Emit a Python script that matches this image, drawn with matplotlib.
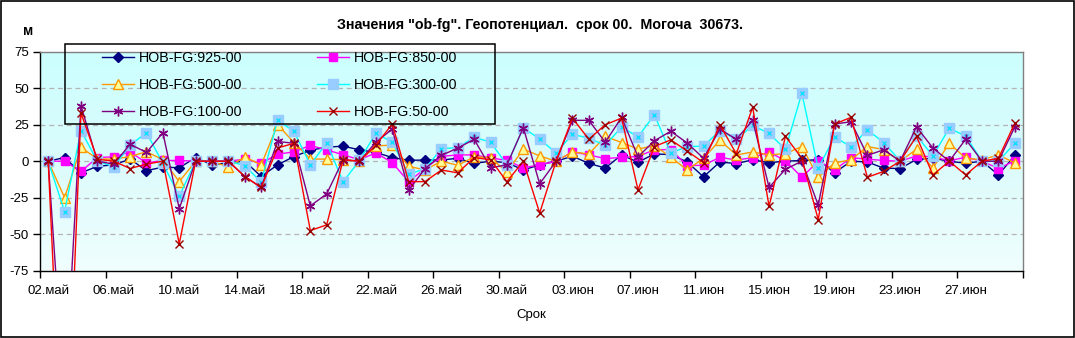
import numpy as np
import matplotlib
matplotlib.use("Agg")
import matplotlib.pyplot as plt
from matplotlib.colors import LinearSegmentedColormap
from matplotlib.patches import Rectangle

plt.rcParams['font.family'] = ['Liberation Sans', 'DejaVu Sans']

# 02.май .. 30.июн, one point per day
days = np.arange(60)
tick_labels = ["02.май", "06.май", "10.май", "14.май", "18.май", "22.май", "26.май",
               "30.май", "03.июн", "07.июн", "11.июн", "15.июн", "19.июн", "23.июн", "27.июн"]

h925 = [0, 2.5, -8, -3.5, -2.5, 1.4, -6.5, -4, -4.5, 2.5,
        -2.5, -1, 0, -10.5, -2.5, 3.2, 7.5, 9.6, 10.3, 7.8,
        6, 2.5, 0.6, 0.8, 0.8, 2, -1.5, 0, -1, -6,
        -2.5, 0, 3.4, -1.5, -4.7, 4.3, -0.7, 5, 4.5, -0.5,
        -10.7, -0.5, -1.7, 1, -1, 0, 0.5, 1, -8, 0,
        -0.5, -4.8, -5, 1.2, 2, 0, -1.4, 0, -9.4, 4]
h850 = [0, 0, -7, 2.5, 3, 6.4, -1.2, 0.5, 0.5, 0,
        0, 0, 1.4, -1.4, 4.8, 6.4, 10.8, 7.8, 4.4, 1,
        5.7, -1, -14, -5, 3.3, 4.3, 4.3, 2.3, 0.5, -4.5,
        -2.5, 0, 6.4, 4.3, 1.8, 2.6, 3.3, 7.8, 8, -3,
        -2.8, 2.7, 0.8, 2.4, 6.3, 0.3, -11, 0, -6, 2.4,
        1.4, 0.5, 0, 3.6, 3, 0.3, 2.7, 0, -5, 0.3]
h500 = [0, -25, 9.4, 1.6, 1.4, 3.2, 6.5, 1, -14, 0,
        0, -4, 3, -2.5, 25, 12.8, 1.5, 1.4, 1, 0,
        10.5, 11, -3.5, -6, 0, -2.8, 3, 2.5, -7.5, 8.3,
        3.6, 0, 6.4, 4.9, 17, 12.8, 8.3, 10.7, 2.8, -6,
        2, 14.3, 4.3, 6.3, 4.3, 5.2, 10, -11, -1.2, 1,
        10, 8, 0, 8.2, -4.8, 12.3, 2, 1, 4.3, -1.2]
h300 = [0, -34.5, 21, 0, -3.7, 11, 19.6, -1.5, -24, 0,
        0, 0, -3, -14.4, 28, 20.5, -2.6, 12.7, -14.2, 0.5,
        19.2, 13, -8.8, -5.3, 8.6, 9.3, 16.4, 13, -2.5, 22.8,
        15.2, 5.6, 18.4, 15.8, 10.8, 23.5, 16.6, 31.8, 5.6, 10,
        10.3, 21, 15, 24.5, 19, 8.2, 46.6, -4.9, 16.7, 9.8,
        21.5, 12.8, 0.2, 17.5, 3.6, 22.6, 17.2, 0, 0, 12.3]
h100 = [0, -165, 38, 0, -2, 11.6, 6, 19.5, -32.5, 0,
        0, 0, -10.5, -18, 13.5, 12.3, -30.6, -22.4, 1, 0,
        13, 22, -20, -5, 4, 9, 15, -4.5, -2.5, 23,
        -15.5, 0, 28, 28, 13, 30, 3, 14, 20.5, 12.5,
        2, 22, 15, 28, -18, -5.5, 0, -30, 25.5, 27,
        4, 7.8, 0, 23.5, 9, 0, 15, 0, 0, 23.5]
h50 = [0, -240, 33, 1.4, 0, -5, -2, 0, -56.6, 0,
       0, 0, -10.5, -18, 9, 12.3, -47.5, -43.6, 1, 0,
       11, 25.5, -14, -14, -6, -8, 2.5, 1, -14, 0,
       -35.5, 0, 29.5, 15, 25, 29.5, -19.6, 10, 14.6, 7,
       -1, 25, 5, 37, -31, 17, 2, -40, 25.5, 30,
       -11, -7, 0, 17, -9.4, 0, -9.4, 0, 2, 26]

W, H = 1075, 338
fig = plt.figure(figsize=(10.75, 3.38), dpi=100)
ax = fig.add_axes([40 / W, 1 - 270.7 / H, 983 / W, 219 / H])

# background gradient of the plot area
cmap = LinearSegmentedColormap.from_list("bg", ["#f0fefe", "#dcfbfb", "#ccffff"])
ax.imshow(np.linspace(0, 1, 200).reshape(-1, 1), extent=(-0.5, 59.5, -75, 75),
          aspect='auto', cmap=cmap, origin='lower', zorder=0)

for yv in [-50, -25, 0, 25, 50]:
    ax.axhline(yv, color='#b4b4b4', lw=0.9, ls=(0, (4, 3)), zorder=1)

l925, = ax.plot(days, h925, color='#000080', lw=1, marker='D', ms=5, mfc='#000080', mec='#000080',
                label='HOB-FG:925-00', zorder=3)
l850, = ax.plot(days, h850, color='#ff00ff', lw=1, marker='s', ms=6, mfc='#ff00ff', mec='#ff00ff',
                label='HOB-FG:850-00', zorder=3)
l500, = ax.plot(days, h500, color='#ff9900', lw=1, marker='^', ms=7, mfc='#ffff99', mec='#ff9900',
                label='HOB-FG:500-00', zorder=3)
l300, = ax.plot(days, h300, color='#00ffff', lw=1, marker='s', ms=7, mfc='#99ccff', mec='#99ccff',
                label='HOB-FG:300-00', zorder=3)
ax.plot(days, h300, ls='none', marker='x', ms=3.5, mec='#00e0ff', mew=0.9, zorder=3)
l100, = ax.plot(days, h100, color='#800080', lw=1, marker=(6, 2, 0), ms=7, mec='#800080', mew=1,
                label='HOB-FG:100-00', zorder=3)
l50, = ax.plot(days, h50, color='#ff0000', lw=1, marker='x', ms=5.5, mec='#990000', mew=1,
               label='HOB-FG:50-00', zorder=3)

ax.set_xlim(-0.5, 59.5)
ax.set_ylim(-75, 75)
ax.set_yticks([-75, -50, -25, 0, 25, 50, 75])
ax.set_yticklabels(['-75', '-50', '-25', '0', '25', '50', '75'], fontsize=9.5)
ax.set_xticks(np.arange(-0.5, 60, 4))
ax.set_xticklabels([])
ax.set_xticks(np.arange(0, 60, 4), minor=True)
ax.set_xticklabels(tick_labels, minor=True, fontsize=9.5)
ax.tick_params(which='major', direction='out', length=5, width=1, color='black')
ax.tick_params(which='minor', length=0, pad=10)
ax.tick_params(axis='y', pad=3)

for s in ['top', 'right']:
    ax.spines[s].set_color('#808080')
    ax.spines[s].set_linewidth(1)
for s in ['left', 'bottom']:
    ax.spines[s].set_color('black')
    ax.spines[s].set_linewidth(1)

ax.set_xlabel('Срок', fontsize=9.5, labelpad=9)

# legend: row-major order, frame drawn separately
handles = [l925, l500, l100, l850, l300, l50]
leg = ax.legend(handles=handles, ncol=2, loc='upper left',
                bbox_to_anchor=(102 / W, 1 - 51.5 / H), bbox_transform=fig.transFigure,
                fontsize=10.3, frameon=False, borderpad=0, borderaxespad=0,
                labelspacing=0.88, handlelength=2.25, handletextpad=0.35,
                columnspacing=5.2)
fig.patches.append(Rectangle((65 / W, 1 - 124 / H), 430 / W, 80 / H, transform=fig.transFigure,
                             fill=False, edgecolor='black', lw=1.1, zorder=5))

fig.text(540 / W, 1 - 25 / H, 'Значения "ob-fg". Геопотенциал.  срок 00.  Могоча  30673.',
         ha='center', va='center', fontsize=10.3, fontweight='bold')
fig.text(28 / W, 1 - 31 / H, 'м', ha='center', va='center', fontsize=10, fontweight='bold')

fig.patches.append(Rectangle((0.0008, 0.002), 0.9985, 0.995, transform=fig.transFigure,
                             fill=False, edgecolor='black', lw=1.2))

fig.savefig('out.png', dpi=100)
